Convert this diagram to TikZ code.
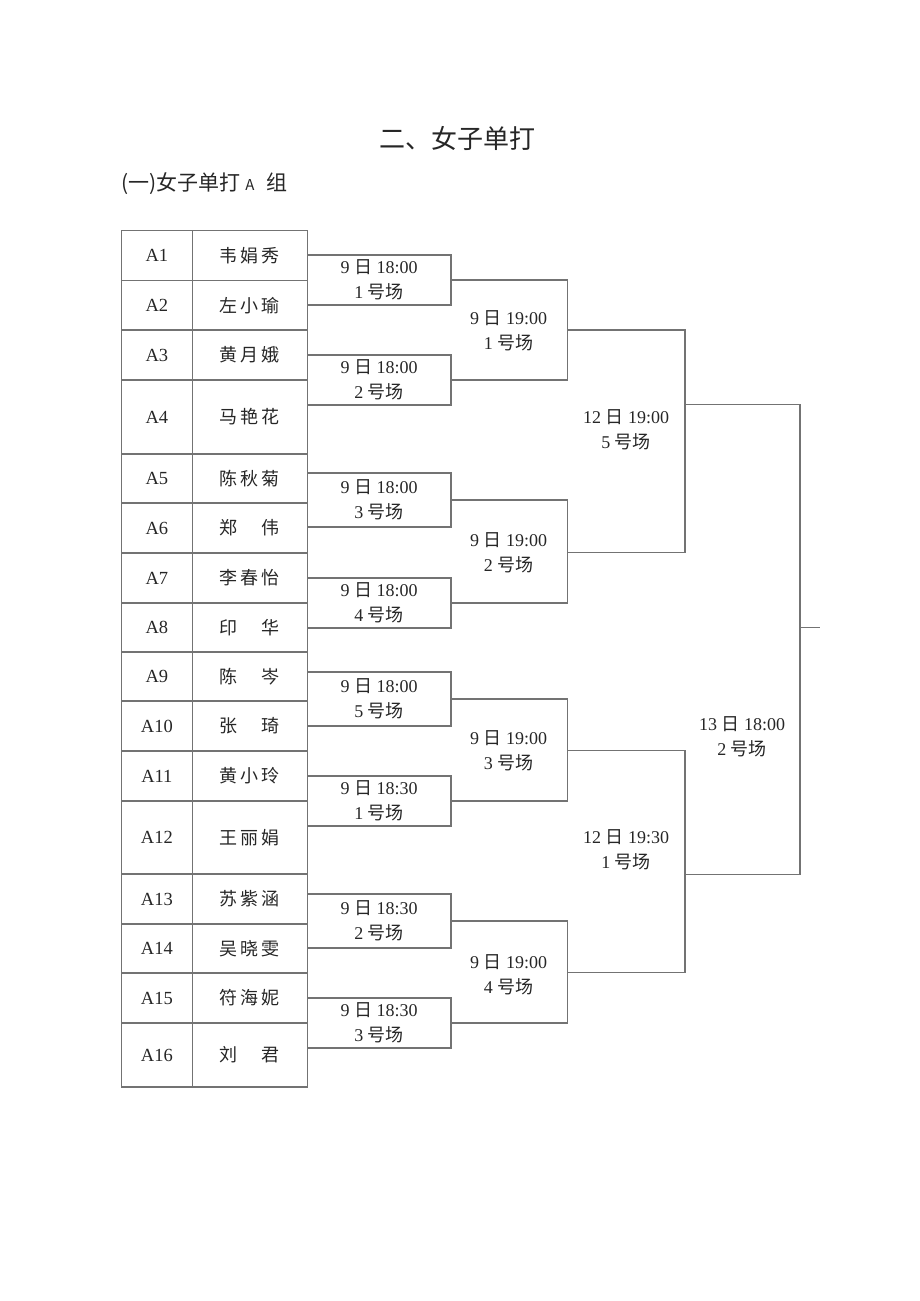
\documentclass[tikz,border=0pt]{standalone}
\usepackage{fontspec}
\setmainfont{Liberation Serif}
\newfontfamily\cjk{Noto Sans CJK SC}
\usetikzlibrary{calc}

\newcommand{\ri}{{\cjk 日}}
\newcommand{\hc}{{\cjk 号场}}
\newcommand{\spread}[1]{\makebox[60pt][s]{#1}}

\begin{document}
\begin{tikzpicture}[x=1pt,y=-1pt]

  \tikzstyle{wire}=[draw=black!55,line width=1.5pt]
  \tikzstyle{cell}=[wire,rectangle,inner sep=0pt,text=black!85]
  \tikzstyle{idcell}=[cell,minimum width=70.8pt,font=\fontsize{18.5}{20}\selectfont]
  \tikzstyle{namecell}=[cell,minimum width=115pt,font=\cjk\fontsize{18}{20}\selectfont]
  \tikzstyle{gamebox}=[cell,minimum width=143.7pt,align=center,font=\fontsize{18}{25}\selectfont]
  \tikzstyle{gamelab}=[inner sep=0pt,align=center,text=black!85,font=\fontsize{18}{25}\selectfont]

  \useasboundingbox (0,0) rectangle (920,1301);

  % titles
  \node[text=black!85,font=\cjk\fontsize{26}{26}\selectfont] (title) at (457,138) {二、女子单打};
  \node[anchor=west,inner sep=0pt,text=black!85,font=\cjk\fontsize{21}{21}\selectfont] (subtitle) at (121,183.5)
    {(一)女子单打\hspace{5pt}{\fontsize{15}{15}\selectfont A}\hspace{12pt}组};

  % players
  \foreach \i/\ya/\yb/\who in {
    1/230.7/280.7/{韦\hfill 娟\hfill 秀},
    2/280.7/330/{左\hfill 小\hfill 瑜},
    3/330/380/{黄\hfill 月\hfill 娥},
    4/380/454/{马\hfill 艳\hfill 花},
    5/454/503/{陈\hfill 秋\hfill 菊},
    6/503/553/{郑\hfill 伟},
    7/553/603/{李\hfill 春\hfill 怡},
    8/603/652/{印\hfill 华},
    9/652/701/{陈\hfill 岑},
    10/701/751/{张\hfill 琦},
    11/751/801/{黄\hfill 小\hfill 玲},
    12/801/874/{王\hfill 丽\hfill 娟},
    13/874/924/{苏\hfill 紫\hfill 涵},
    14/924/973/{吴\hfill 晓\hfill 雯},
    15/973/1023/{符\hfill 海\hfill 妮},
    16/1023/1087/{刘\hfill 君}}
  {
    \pgfmathsetmacro{\hh}{\yb-\ya}
    \pgfmathsetmacro{\yy}{(\ya+\yb)/2}
    \node[idcell,minimum height=\hh pt] (id\i) at (156.9,\yy) {A\i};
    \node[namecell,minimum height=\hh pt] (nm\i) at (249.8,\yy) {\spread{\who}};
  }

  % first round
  \node[gamebox,minimum height=50pt] (g1) at (379.2,280)  {9 \ri{} 18:00\\1 \hc};
  \node[gamebox,minimum height=50pt] (g2) at (379.2,380)  {9 \ri{} 18:00\\2 \hc};
  \node[gamebox,minimum height=54pt] (g3) at (379.2,500)  {9 \ri{} 18:00\\3 \hc};
  \node[gamebox,minimum height=50pt] (g4) at (379.2,603)  {9 \ri{} 18:00\\4 \hc};
  \node[gamebox,minimum height=54pt] (g5) at (379.2,699)  {9 \ri{} 18:00\\5 \hc};
  \node[gamebox,minimum height=50pt] (g6) at (379.2,801)  {9 \ri{} 18:30\\1 \hc};
  \node[gamebox,minimum height=54pt] (g7) at (379.2,921)  {9 \ri{} 18:30\\2 \hc};
  \node[gamebox,minimum height=50pt] (g8) at (379.2,1023) {9 \ri{} 18:30\\3 \hc};

  % later rounds
  \node[gamelab] (h1) at (508.5,330.5) {9 \ri{} 19:00\\1 \hc};
  \node[gamelab] (h2) at (508.5,553)   {9 \ri{} 19:00\\2 \hc};
  \node[gamelab] (h3) at (508.5,751)   {9 \ri{} 19:00\\3 \hc};
  \node[gamelab] (h4) at (508.5,974.5) {9 \ri{} 19:00\\4 \hc};

  \node[gamelab] (s1) at (626,430) {12 \ri{} 19:00\\5 \hc};
  \node[gamelab] (s2) at (626,850) {12 \ri{} 19:30\\1 \hc};

  \node[gamelab] (fin) at (742,736.5) {13 \ri{} 18:00\\2 \hc};

  % joints
  \coordinate (j1) at (567.3,330);
  \coordinate (j2) at (567.3,552.7);
  \coordinate (j3) at (567.3,750.7);
  \coordinate (j4) at (567.3,972.7);
  \coordinate (k1) at (685,404.5);
  \coordinate (k2) at (685,874.3);
  \coordinate (champ) at (800,627.7);
  \coordinate (tail) at (820,627.7);

  % brackets
  \draw[wire] (g1.east) -| (j1) |- (g2.east);
  \draw[wire] (g3.east) -| (j2) |- (g4.east);
  \draw[wire] (g5.east) -| (j3) |- (g6.east);
  \draw[wire] (g7.east) -| (j4) |- (g8.east);

  \draw[wire] (j1) -| (k1) |- (j2);
  \draw[wire] (j3) -| (k2) |- (j4);

  \draw[wire] (k1) -| (champ) |- (k2);
  \draw[wire] (champ) -- (tail);

\end{tikzpicture}
\end{document}
